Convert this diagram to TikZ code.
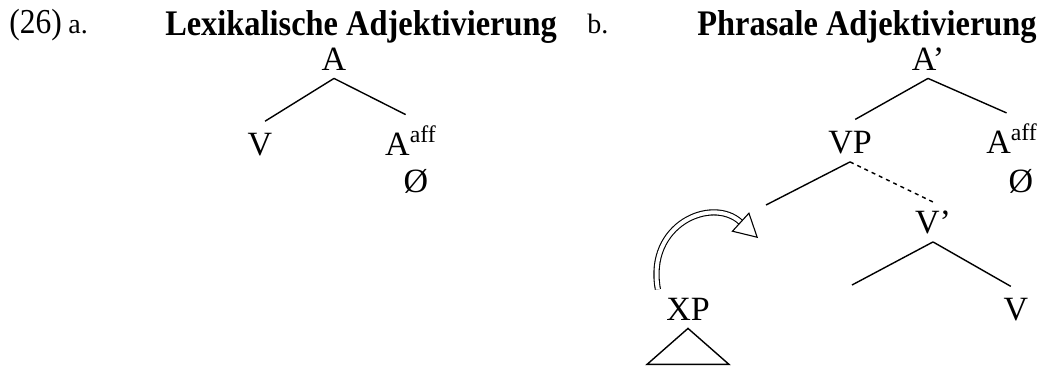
\documentclass[tikz,border=0pt]{standalone}
\usepackage{fontspec}
\setmainfont{Liberation Serif}
\newfontfamily\headfont[FakeStretch=0.9]{Liberation Serif}
\usetikzlibrary{arrows.meta, positioning}

\begin{document}
\begin{tikzpicture}[x=0.5pt, y=-0.5pt,
    cat/.style={font=\fontsize{17}{20}\selectfont, inner sep=4pt, anchor=base},
    heading/.style={font=\headfont\fontsize{18}{21}\selectfont\bfseries, inner sep=0pt, anchor=base},
    tag/.style={font=\fontsize{14}{16}\selectfont, inner sep=0pt, anchor=base west},
    branch/.style={line width=0.7pt, shorten >=3pt},
    movearrow/.style={double, line width=0.55pt, double distance=2pt,
      -{Triangle[open, length=12pt, width=13pt]}}]
  \useasboundingbox (0,0) rectangle (1047,365);

  \node[tag, font=\headfont\fontsize{17.5}{20}\selectfont] (num) at (9,33) {(26)};
  \node[tag] (ta) at (68,33) {a.};
  \node[tag] (tb) at (587,33) {b.};
  \node[heading] (ha) at (361,35) {Lexikalische Adjektivierung};
  \node[heading] (hb) at (867,35) {Phrasale Adjektivierung};

  % a.
  \node[cat] (aA) at (334,70) {A};
  \node[cat] (aV) at (260,155) {V};
  \node[cat] (aAff) at (411,155) {A\textsuperscript{aff}};
  \node[cat] (aNull) at (416,192) {Ø};
  \draw[branch] (aA.south) -- (aV.north);
  \draw[branch] (aA.south) -- (aAff.north);

  % b.
  \node[cat] (bA) at (928,70) {A’};
  \node[cat] (bVP) at (850,153) {VP};
  \node[cat] (bAff) at (1012,153) {A\textsuperscript{aff}};
  \node[cat] (bNull) at (1021,192) {Ø};
  \node[cat] (bVbar) at (933,233) {V’};
  \node[cat] (bV) at (1016,320) {V};
  \node[cat] (bXP) at (688,320) {XP};
  \coordinate (bSpec) at (766,205);
  \coordinate (bComp) at (852,285);
  \coordinate (bLand) at (758,238);

  \draw[branch] (bA.south) -- (bVP.north);
  \draw[branch] (bA.south) -- (bAff.north);
  \draw[branch, shorten >=0pt] (bVP.south) -- (bSpec);
  \draw[branch, shorten >=0pt, dash pattern=on 2pt off 2pt] (bVP.south) -- (bVbar.north);
  \draw[branch, shorten >=0pt] (bVbar.south) -- (bComp);
  \draw[branch] (bVbar.south) -- (bV.north);
  \draw[line width=0.7pt] (bXP.south) -- ++(-41,36) -- ++(82,0) -- cycle;
  \draw[movearrow] (bXP.north west) .. controls (646,224) and (712,196) .. (bLand);
\end{tikzpicture}
\end{document}
